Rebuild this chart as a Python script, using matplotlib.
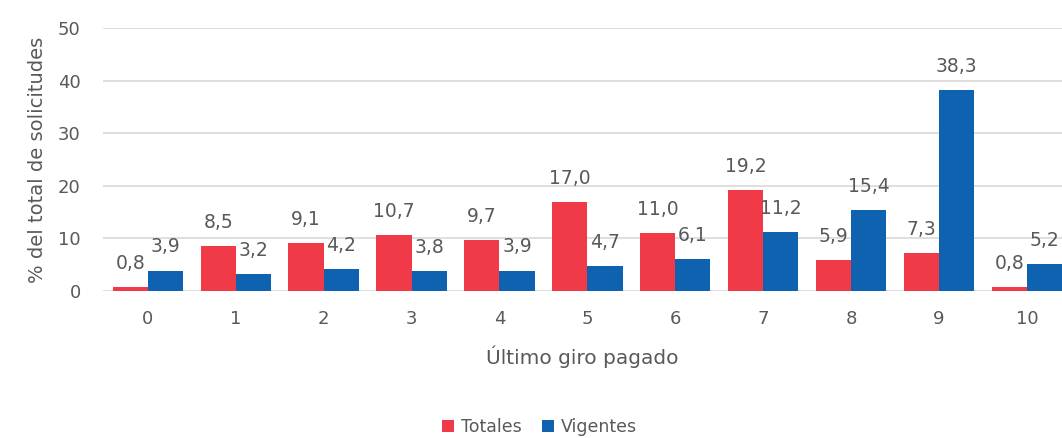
import numpy as np
import matplotlib.pyplot as plt

plt.rcParams['font.family'] = ['DejaVu Sans']

giros = ['0', '1', '2', '3', '4', '5', '6', '7', '8', '9', '10']
totales = [0.8, 8.5, 9.1, 10.7, 9.7, 17.0, 11.0, 19.2, 5.9, 7.3, 0.8]
vigentes = [3.9, 3.2, 4.2, 3.8, 3.9, 4.7, 6.1, 11.2, 15.4, 38.3, 5.2]

RED = '#F03A47'
BLUE = '#0F62B0'
TXT = '#595959'

fig = plt.figure(figsize=(10.62, 4.38), dpi=100)
ax = fig.add_axes([0.097, 0.3356, 0.903, 0.600])

x = np.arange(len(giros))
w = 0.4
b1 = ax.bar(x - w / 2, totales, w, color=RED, label='Totales')
b2 = ax.bar(x + w / 2, vigentes, w, color=BLUE, label='Vigentes')

for bars, vals in ((b1, totales), (b2, vigentes)):
    for r, v in zip(bars, vals):
        ax.annotate(f'{v:.1f}'.replace('.', ','),
                    (r.get_x() + r.get_width() / 2, v),
                    xytext=(0, 17), textcoords='offset points',
                    ha='center', va='center', fontsize=13.5, color=TXT)

ax.set_ylim(0, 50)
ax.set_xlim(-0.51, 10.4)
ax.set_yticks(range(0, 51, 10))
ax.set_xticks(x)
ax.set_xticklabels(giros)
ax.yaxis.grid(True, color='#D9D9D9', linewidth=1.2)
ax.set_axisbelow(True)
for s in ax.spines.values():
    s.set_visible(False)
ax.tick_params(length=0, labelsize=13, labelcolor=TXT)
ax.tick_params(axis='y', pad=16)
ax.tick_params(axis='x', pad=14)

ax.set_ylabel('% del total de solicitudes', fontsize=14, color=TXT, labelpad=8)
ax.set_xlabel('Último giro pagado', fontsize=14.5, color=TXT, labelpad=12)

fig.legend(handles=[b1, b2], loc='center', bbox_to_anchor=(0.508, 0.025),
           ncol=2, frameon=False, fontsize=12.5, labelcolor=TXT,
           handlelength=0.7, handleheight=0.7, handletextpad=0.4,
           columnspacing=1.2)

fig.savefig('out.png', dpi=100)
